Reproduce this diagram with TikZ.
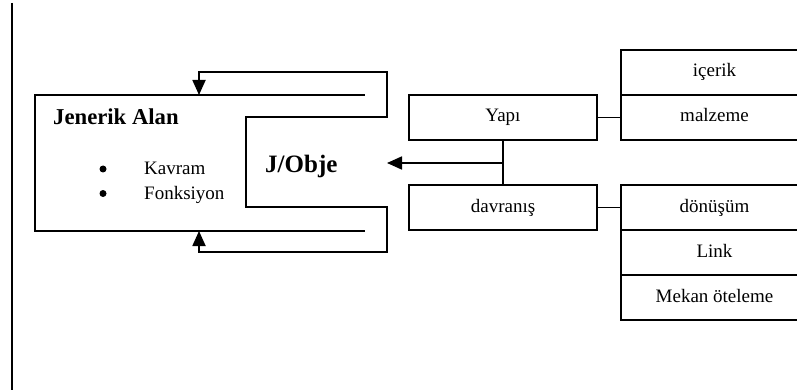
\documentclass[tikz,border=0pt]{standalone}
\usepackage{fontspec}
\setmainfont{Liberation Serif}
\usetikzlibrary{arrows.meta}
\tikzset{
  ln/.style={line width=1.8pt, line cap=rect},
  arr/.style={ln, -{Triangle[length=15pt,width=13pt]}},
  boxnode/.style={draw, line width=1.8pt, rectangle, minimum height=45pt, inner sep=0pt,
     font=\fontsize{19}{23}\selectfont, text height=13pt, text depth=4pt},
  midbox/.style={boxnode, minimum width=188pt},
  rbox/.style={boxnode, minimum width=187pt},
  txt/.style={inner sep=0pt, anchor=base west, font=\fontsize{19}{23}\selectfont},
  bul/.style={circle, fill=black, inner sep=0pt, minimum size=7pt},
}
\begin{document}
\begin{tikzpicture}[x=1pt,y=-1pt]
\useasboundingbox (0,0) rectangle (797,390);
% left vertical rule
\coordinate (v1) at (12,3);
\coordinate (v2) at (12,392);
\draw[line width=2pt] (v1) -- (v2);

% Jenerik Alan outline
\coordinate (o1) at (364,95);
\coordinate (o2) at (35,95);
\coordinate (o3) at (35,231);
\coordinate (o4) at (364,231);
\draw[ln] (o1) -- (o2) -- (o3) -- (o4);
\coordinate (n1) at (387,117);
\coordinate (n2) at (246,117);
\coordinate (n3) at (246,207);
\coordinate (n4) at (387,207);
\draw[ln] (n1) -- (n2) -- (n3) -- (n4);
% feedback loops
\coordinate (t1) at (387,72);
\coordinate (t2) at (199,72);
\coordinate (t3) at (199,95);
\draw[arr] (n1) -- (t1) -- (t2) -- (t3);
\coordinate (b1) at (387,252);
\coordinate (b2) at (199,252);
\coordinate (b3) at (199,231);
\draw[arr] (n4) -- (b1) -- (b2) -- (b3);

% texts
\node[txt, font=\fontsize{22.7}{27}\selectfont\bfseries] (ja) at (53,125) {Jenerik Alan};
\node[bul] (bul1) at (103,169) {};
\node[txt] (kav) at (144,175) {Kavram};
\node[bul] (bul2) at (103,193.5) {};
\node[txt] (fon) at (144,199) {Fonksiyon};
\node[txt, font=\fontsize{25}{30}\selectfont\bfseries] (jo) at (265,173) {J/Obje};

% middle boxes
\node[midbox] (yapi) at (503,117.5) {Yapı};
\node[midbox] (dav) at (503,207.5) {davranış};
% right boxes
\node[rbox] (ice) at (714.5,72.5) {içerik};
\node[rbox] (mal) at (714.5,117.5) {malzeme};
\node[rbox] (don) at (714.5,207.5) {dönüşüm};
\node[rbox] (lnk) at (714.5,252.5) {Link};
\node[rbox] (mek) at (714.5,297.5) {Mekan öteleme};

% connectors
\draw[line width=1.8pt] (yapi.east) -- (mal.west);
\draw[line width=1.8pt] (dav.east) -- (don.west);
\draw[line width=1.8pt] (yapi.south) -- (dav.north);
\coordinate (j) at (503,163);
\coordinate (jt) at (387,163);
\draw[line width=1.8pt, -{Triangle[length=15pt,width=13pt]}] (j) -- (jt);
\end{tikzpicture}
\end{document}
